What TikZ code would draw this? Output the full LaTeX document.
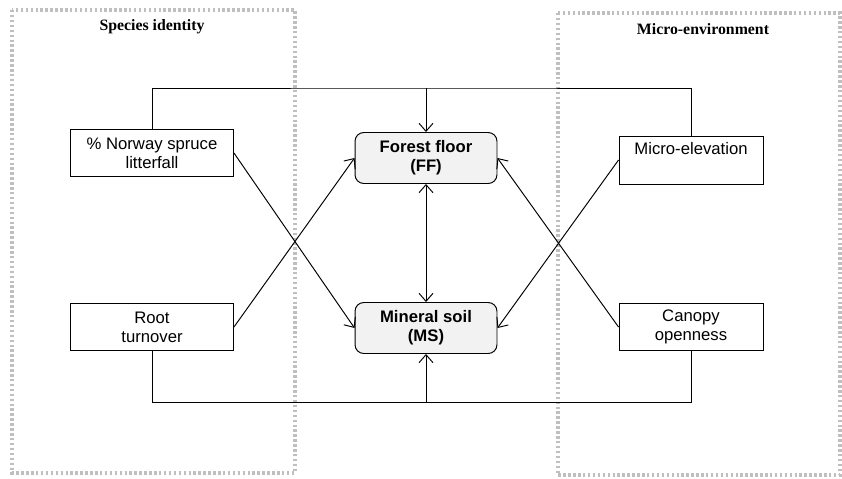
\documentclass[tikz,border=0pt]{standalone}
\usepackage{fontspec}
\setmainfont{Liberation Serif}
\setsansfont{Liberation Sans}
\usetikzlibrary{positioning,shapes,arrows.meta}

\begin{document}
\begin{tikzpicture}[x=0.02cm, y=-0.02cm, line width=0.55pt,
  factor/.style={draw, rectangle, align=center, font=\sffamily\fontsize{9.5}{11}\selectfont, inner sep=0pt},
  pool/.style={draw, rounded corners=5pt, fill=gray!10, align=center, minimum width=2.84cm, minimum height=1.02cm, font=\sffamily\bfseries\fontsize{9.5}{11}\selectfont, inner sep=0pt},
  group/.style={draw=gray!50, dash pattern=on 1.4pt off 1.4pt, line width=1.8pt},
  grouptitle/.style={font=\bfseries\fontsize{9}{10}\selectfont},
  arr/.style={-{Straight Barb[length=1.6mm,width=2.8mm]}},
  dblarr/.style={{Straight Barb[length=1.6mm,width=2.8mm]}-{Straight Barb[length=1.6mm,width=2.8mm]}}]
\useasboundingbox (0,0) rectangle (842,478);
% groups
\draw[group] (12,10) rectangle (295,473);
\draw[group] (558,13) rectangle (840,475);
\node[grouptitle] (sptitle) at (152,27) {Species identity};
\node[grouptitle] (mictitle) at (703,29) {Micro-environment};
% factors
\node[factor, minimum width=3.26cm, minimum height=0.93cm] (norway) at (152,153) {\% Norway spruce\\litterfall};
\node[factor, minimum width=3.26cm, minimum height=0.94cm] (root) at (152,327) {Root\\turnover};
\node[factor, minimum width=2.88cm, minimum height=0.96cm] (micro) at (691,160) {Micro-elevation\\[2pt]~};
\node[factor, minimum width=2.88cm, minimum height=0.94cm] (canopy) at (691,327) {Canopy\\openness};
% soil pools
\node[pool] (ff) at (426,158) {Forest floor\\(FF)};
\node[pool] (ms) at (426,328) {Mineral soil\\(MS)};
% connectors
\coordinate (topmid) at (426,88);
\coordinate (botmid) at (426,402);
\draw (norway.north) |- (topmid) -| (micro.north);
\draw (root.south) |- (botmid) -| (canopy.south);
\draw[arr] (topmid) -- (ff.north);
\draw[arr] (botmid) -- (ms.south);
\draw[dblarr] (ff.south) -- (ms.north);
\draw[arr] (norway.east) -- (ms.west);
\draw[arr] (root.east) -- (ff.west);
\draw[arr] (micro.west) -- (ms.east);
\draw[arr] (canopy.west) -- (ff.east);
\end{tikzpicture}
\end{document}
